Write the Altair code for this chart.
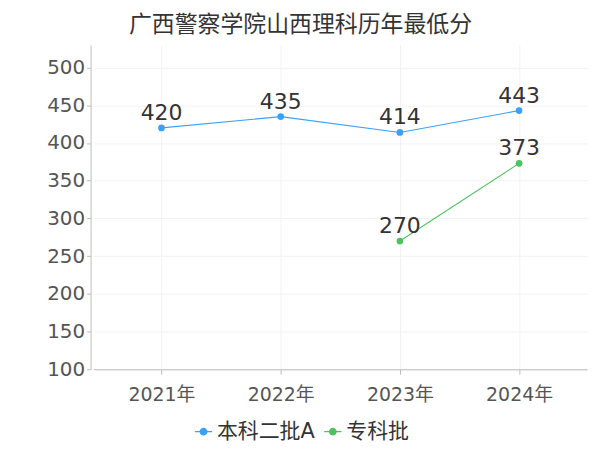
import altair as alt
import pandas as pd

years = ["2021年", "2022年", "2023年", "2024年"]
series_names = ["本科二批A", "专科批"]
benke = [420, 435, 414, 443]
zhuanke = [None, None, 270, 373]
colors = ["#3AA0FF", "#4CC35E"]

rows = []
for y, v in zip(years, benke):
    if v is not None:
        rows.append({"year": y, "series": series_names[0], "score": v})
for y, v in zip(years, zhuanke):
    if v is not None:
        rows.append({"year": y, "series": series_names[1], "score": v})
df = pd.DataFrame(rows)

FONT = "DejaVu Sans, Noto Sans CJK SC"
LEG_SYMBOL = "M-1,0L1,0M-0.38,0A0.38,0.38 0 1,0 0.38,0A0.38,0.38 0 1,0 -0.38,0Z"

x = alt.X("year:N", sort=years, title=None,
          scale=alt.Scale(type="point", padding=0.57),
          axis=alt.Axis(labelAngle=0, labelFontSize=19, labelColor="#555",
                        labelFont=FONT, domainColor="#bbb", tickColor="#bbb",
                        tickSize=5, grid=True, gridColor="#f2f2f2", labelPadding=11))
y = alt.Y("score:Q", title=None,
          scale=alt.Scale(domain=[100, 530], nice=False, zero=False),
          axis=alt.Axis(values=[100, 150, 200, 250, 300, 350, 400, 450, 500],
                        labelFontSize=20, labelColor="#555", labelFont=FONT,
                        domainColor="#bbb", tickColor="#bbb", tickSize=4,
                        grid=True, gridColor="#f2f2f2", offset=3, labelPadding=2))
color = alt.Color("series:N", sort=series_names,
                  scale=alt.Scale(domain=series_names, range=colors),
                  legend=alt.Legend(title=None, orient="none", direction="horizontal",
                                    legendX=100, legendY=378,
                                    labelFontSize=21, labelColor="#333", labelFont=FONT,
                                    symbolType=LEG_SYMBOL, symbolSize=300,
                                    symbolStrokeWidth=1.2, labelOffset=3,
                                    columnPadding=6))

base = alt.Chart(df)
lines = base.mark_line(strokeWidth=1.1, point=alt.OverlayMarkDef(size=45, filled=True)).encode(
    x=x, y=y, color=color, detail="series:N")
labels = base.mark_text(dy=-15, fontSize=22, color="#333", font=FONT).encode(
    x=alt.X("year:N", sort=years), y="score:Q", text="score:Q")

chart = alt.layer(lines, labels).properties(
    width=496, height=326,
    padding={"left": 38, "top": 5, "right": 5, "bottom": 5},
    title=alt.TitleParams("广西警察学院山西理科历年最低分", fontSize=23, font=FONT,
                          color="#333", fontWeight="normal", anchor="middle", dx=-40, offset=8),
    background="white",
).configure_view(stroke=None)

chart.save("out.html", embed_options={"renderer": "svg", "actions": False})
